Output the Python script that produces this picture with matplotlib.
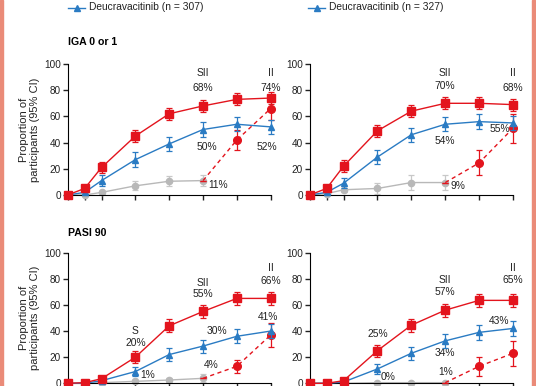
import matplotlib.pyplot as plt
from matplotlib.lines import Line2D
from matplotlib.patches import Rectangle

plt.rcParams['font.family'] = ['Liberation Sans', 'DejaVu Sans']
plt.rcParams['font.size'] = 7.2

RED = '#e3141d'
BLUE = '#2a7bc3'
GRAY = '#b8b8b8'
EDGE = '#ea8b78'

weeks = [0, 1, 2, 4, 6, 8, 10, 12]
weeks_pbo = [0, 1, 2, 4, 6, 8]
weeks_switch = [8, 10, 12]

# IGA 0 or 1, left panel (n = 307)
iga_l_red = [0, 5, 21, 45, 62, 68, 73, 74]
iga_l_red_ci = [0, 2, 4.5, 4.5, 4.5, 4.5, 4.5, 4.5]
iga_l_blue = [0, 2, 11, 27, 39, 50, 54, 52]
iga_l_blue_ci = [0, 1.5, 4, 5.5, 5.5, 5.5, 5.5, 5.5]
iga_l_gray = [0, 0, 2, 7, 10.5, 11]
iga_l_gray_ci = [0, 0, 1, 3.5, 4, 4]
iga_l_switch = [11, 42, 66]
iga_l_switch_ci = [0, 8, 9]

# IGA 0 or 1, right panel (n = 327)
iga_r_red = [0, 5, 22, 49, 64, 70, 70, 69]
iga_r_red_ci = [0, 2, 4.5, 4.5, 4.5, 4.5, 4.5, 4.5]
iga_r_blue = [0, 2, 9, 29, 46, 54, 56, 55]
iga_r_blue_ci = [0, 1.5, 4, 5.5, 5.5, 5.5, 5.5, 5.5]
iga_r_gray = [0, 1, 4, 5, 9.5, 9.5]
iga_r_gray_ci = [0, 0.5, 1.5, 4, 6, 6]
iga_r_switch = [9.5, 24.5, 51]
iga_r_switch_ci = [0, 9.5, 11]

# PASI 90, left panel
pasi_l_red = [0, 0.5, 3.5, 20, 44, 55, 65, 65]
pasi_l_red_ci = [0, 0.5, 1.5, 4.5, 5, 5, 5, 5]
pasi_l_blue = [0, 0, 2, 9, 22, 28.5, 36, 40]
pasi_l_blue_ci = [0, 0, 1, 3.5, 5, 5, 5.5, 5.5]
pasi_l_gray = [0, 0, 0.5, 1.5, 2.5, 3.8]
pasi_l_gray_ci = [0, 0, 0.5, 1, 1.5, 3]
pasi_l_switch = [3.8, 13, 37]
pasi_l_switch_ci = [0, 5, 9]

# PASI 90, right panel
pasi_r_red = [0, 0, 2, 25, 44.5, 56, 63.5, 63.5]
pasi_r_red_ci = [0, 0, 1.5, 4.5, 5, 5, 5, 5]
pasi_r_blue = [0, 0, 1, 11, 23, 32.5, 39, 42]
pasi_r_blue_ci = [0, 0, 1, 3.5, 5, 5.5, 5.5, 5.5]
pasi_r_gray = [0, 0, 0, 0.5, 0.5, 0.5]
pasi_r_gray_ci = [0, 0, 0, 0, 0, 0]
pasi_r_switch = [0.5, 13, 23]
pasi_r_switch_ci = [0, 7.5, 9.5]

legend_labels = ['Deucravacitinib (n = 307)', 'Deucravacitinib (n = 327)']
panel_titles = ['IGA 0 or 1', 'PASI 90']
yticks = [0, 20, 40, 60, 80, 100]


def draw_panel(ax, red, red_ci, blue, blue_ci, gray, gray_ci, sw, sw_ci):
    ekw = dict(capsize=2.2, elinewidth=0.9, capthick=0.9, clip_on=False)
    ax.errorbar(weeks_pbo, gray, yerr=gray_ci, color=GRAY, ecolor='#c8c8c8',
                marker='o', ms=4.5, lw=1.0, zorder=2, **ekw)
    ax.errorbar(weeks_switch, sw, yerr=sw_ci, color=RED, marker='o', ms=5.5,
                lw=1.0, ls=(0, (3, 2.5)), markevery=[1, 2], zorder=3, **ekw)
    ax.errorbar(weeks, blue, yerr=blue_ci, color=BLUE, marker='^', ms=5,
                lw=1.0, zorder=4, **ekw)
    ax.errorbar(weeks, red, yerr=red_ci, color=RED, marker='s', ms=5.5,
                lw=1.0, zorder=5, **ekw)
    ax.set_xlim(0, 12)
    ax.set_ylim(0, 100)
    ax.set_xticks(weeks)
    ax.set_xticklabels([])
    ax.set_yticks(yticks)
    ax.spines['top'].set_visible(False)
    ax.spines['right'].set_visible(False)
    ax.tick_params(direction='out', length=3.5, width=1, pad=1.5,
                   labelsize=7.2, colors='#222222')


fig = plt.figure(figsize=(5.36, 3.86), dpi=100)
W, H = 536, 386

def add_ax(left, top, right, bottom):
    return fig.add_axes([left / W, 1 - bottom / H, (right - left) / W, (bottom - top) / H])

ax1 = add_ax(67.7, 64, 270.7, 195)
ax2 = add_ax(309.7, 64, 513, 195)
ax3 = add_ax(67.7, 252.7, 270.7, 383.3)
ax4 = add_ax(309.7, 252.7, 513, 383.3)

draw_panel(ax1, iga_l_red, iga_l_red_ci, iga_l_blue, iga_l_blue_ci,
           iga_l_gray, iga_l_gray_ci, iga_l_switch, iga_l_switch_ci)
draw_panel(ax2, iga_r_red, iga_r_red_ci, iga_r_blue, iga_r_blue_ci,
           iga_r_gray, iga_r_gray_ci, iga_r_switch, iga_r_switch_ci)
draw_panel(ax3, pasi_l_red, pasi_l_red_ci, pasi_l_blue, pasi_l_blue_ci,
           pasi_l_gray, pasi_l_gray_ci, pasi_l_switch, pasi_l_switch_ci)
draw_panel(ax4, pasi_r_red, pasi_r_red_ci, pasi_r_blue, pasi_r_blue_ci,
           pasi_r_gray, pasi_r_gray_ci, pasi_r_switch, pasi_r_switch_ci)

for ax in (ax1, ax3):
    ax.set_ylabel('Proportion of\nparticipants (95% CI)', fontsize=8,
                  linespacing=1.05, labelpad=3, color='#222222')

tk = dict(ha='center', va='center', fontsize=7.4, color='#222222', clip_on=False)
# top left
ax1.text(8, 93, 'SII', **tk); ax1.text(8, 82, '68%', **tk)
ax1.text(12, 93, 'II', **tk); ax1.text(12, 82, '74%', **tk)
ax1.text(8.25, 37, '50%', **tk)
ax1.text(11.75, 37, '52%', **tk)
ax1.text(8.9, 8, '11%', **tk)
# top right
ax2.text(8, 93, 'SII', **tk); ax2.text(8, 83, '70%', **tk)
ax2.text(12, 93, 'II', **tk); ax2.text(12, 82, '68%', **tk)
ax2.text(8, 41, '54%', **tk)
ax2.text(11.2, 50, '55%', **tk)
ax2.text(8.75, 7, '9%', **tk)
# bottom left
ax3.text(4, 40, 'S', **tk); ax3.text(4, 31, '20%', **tk)
ax3.text(8, 77, 'SII', **tk); ax3.text(8, 68, '55%', **tk)
ax3.text(12, 88, 'II', **tk); ax3.text(12, 78.5, '66%', **tk)
ax3.text(8.85, 40, '30%', **tk)
ax3.text(11.85, 51, '41%', **tk)
ax3.text(4.7, 6, '1%', **tk)
ax3.text(8.5, 14, '4%', **tk)
# bottom right
ax4.text(4, 37.5, '25%', **tk)
ax4.text(8, 79, 'SII', **tk); ax4.text(8, 70, '57%', **tk)
ax4.text(12, 88, 'II', **tk); ax4.text(12, 79, '65%', **tk)
ax4.text(11.2, 48, '43%', **tk)
ax4.text(8, 23, '34%', **tk)
ax4.text(4.6, 5, '0%', **tk)
ax4.text(8, 9, '1%', **tk)

# panel titles
fig.text(68 / W, 1 - 42 / H, panel_titles[0], fontsize=7.6, fontweight='bold',
         va='center', ha='left')
fig.text(68 / W, 1 - 232.5 / H, panel_titles[1], fontsize=7.6, fontweight='bold',
         va='center', ha='left')

# legend entries (only the visible one of each column)
for x0, label in zip((68, 308), legend_labels):
    fig.add_artist(Line2D([x0 / W, (x0 + 17) / W], [1 - 7.5 / H] * 2, color=BLUE,
                          lw=1.0, transform=fig.transFigure))
    fig.add_artist(Line2D([(x0 + 8.5) / W], [1 - 7.5 / H], color=BLUE, ls='none',
                          marker='^', ms=4.5, transform=fig.transFigure))
    fig.text((x0 + 21) / W, 1 - 7.5 / H, label, fontsize=7.4, va='center',
             ha='left', color='#222222')

# coloured page edges
fig.add_artist(Rectangle((0, 0), 3 / W, 1, color=EDGE, transform=fig.transFigure))
fig.add_artist(Rectangle((532 / W, 0), 3 / W, 1, color=EDGE,
                         transform=fig.transFigure))

fig.savefig('out.png', dpi=100)
